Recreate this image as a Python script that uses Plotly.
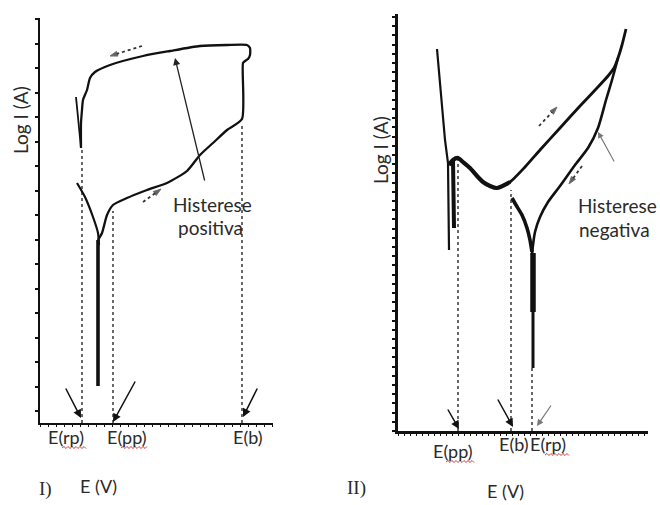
import plotly.graph_objects as go

W, H = 660, 505
INK = "#111111"
TXT = "#2a2a2a"

# ---------------- Panel I : positive hysteresis (arbitrary units) ----------------
# cathodic spike at the corrosion potential
I_spike_E = [58, 58]
I_spike_logI = [37, 183]
# left arm of the V around the corrosion potential
I_varm_E = [37, 45, 53, 58, 59]
I_varm_logI = [240, 226, 206, 190, 178]
# forward (anodic) scan up to E(b), then reverse scan back towards E(rp)
I_scan_E = [58, 62, 67, 73, 87, 107, 127, 147, 160, 173, 187, 202,
            203, 205, 208, 210, 210, 207, 187, 160, 130, 103, 70, 55,
            50, 47, 43, 42, 41, 41]
I_scan_logI = [183, 190, 208, 218, 225, 233, 240, 252, 268, 280, 293, 304,
               360, 362, 364, 368, 375, 378, 378, 377, 372, 367, 358, 351,
               345, 333, 323, 313, 300, 275]
# short closing stroke at the end of the reverse scan
I_tail_E = [36, 41]
I_tail_logI = [326, 275]

# characteristic potentials (x) and where their guide lines stop (y)
I_marks = ["E(rp)", "E(pp)", "E(b)"]
I_marks_E = [42, 73, 202]
I_marks_top = [275, 212, 300]

# ---------------- Panel II : negative hysteresis (arbitrary units) ----------------
II_spike_E = [39, 47, 50, 51]
II_spike_logI = [382, 291, 268, 181]
II_inner_E = [55, 56]
II_inner_logI = [271, 203]
II_fwd_E = [51, 55, 60, 65, 72, 79, 85, 92, 99, 112, 127, 142, 162, 182,
            199, 210, 216, 220, 224, 228]
II_fwd_logI = [266, 271, 273, 269, 263, 255, 249, 245, 243, 249, 264, 281,
               303, 325, 343, 355, 363, 373, 386, 402]
II_rev_E = [220, 214, 208, 200, 190, 177, 162, 150, 142, 137, 135, 134]
II_rev_logI = [373, 351, 331, 303, 283, 266, 245, 229, 214, 199, 186, 176]
II_varm_E = [114, 118, 124, 129, 132, 134]
II_varm_logI = [233, 226, 216, 203, 191, 179]
II_drop_E = [135, 135]
II_drop_logI = [178, 119]
II_drop2_E = [135, 135]
II_drop2_logI = [125, 63]

II_marks = ["E(pp)", "E(b)", "E(rp)"]
II_marks_E = [60, 113, 134]
II_marks_top = [271, 241, 63]

fig = go.Figure()


def curve(E, L, xa, ya, width, shape="spline"):
    fig.add_trace(go.Scatter(
        x=E, y=L, xaxis=xa, yaxis=ya, mode="lines",
        line=dict(color=INK, width=width, shape=shape, smoothing=0.6),
        hoverinfo="skip", showlegend=False))


def guides(Es, tops, xa, ya):
    for e, t in zip(Es, tops):
        fig.add_trace(go.Scatter(
            x=[e, e], y=[0, t], xaxis=xa, yaxis=ya, mode="lines",
            line=dict(color="#444444", width=1.6, dash="dot"),
            hoverinfo="skip", showlegend=False))


def dotted_arrow(x0, y0, x1, y1, xa, ya):
    fig.add_trace(go.Scatter(
        x=[x0, x1], y=[y0, y1], xaxis=xa, yaxis=ya, mode="lines+markers",
        line=dict(color="#333333", width=1.8, dash="dot"),
        marker=dict(symbol="arrow", angleref="previous", size=[0, 8],
                    color="#222222"),
        hoverinfo="skip", showlegend=False))


# panel I
guides(I_marks_E, I_marks_top, "x", "y")
curve(I_varm_E, I_varm_logI, "x", "y", 2.2)
curve(I_scan_E, I_scan_logI, "x", "y", 2.3)
curve(I_tail_E, I_tail_logI, "x", "y", 1.8, "linear")
curve(I_spike_E, I_spike_logI, "x", "y", 3.6, "linear")
dotted_arrow(103, 221, 121, 234, "x", "y")
dotted_arrow(102, 377, 70, 367, "x", "y")

# panel II
guides(II_marks_E, II_marks_top, "x2", "y2")
curve(II_spike_E, II_spike_logI, "x2", "y2", 2.2, "linear")
curve(II_inner_E, II_inner_logI, "x2", "y2", 4, "linear")
curve(II_fwd_E, II_fwd_logI, "x2", "y2", 2.8)
curve(II_fwd_E[:10], II_fwd_logI[:10], "x2", "y2", 4.2)
curve(II_rev_E, II_rev_logI, "x2", "y2", 2.6)
curve(II_varm_E, II_varm_logI, "x2", "y2", 3.6)
curve(II_drop_E, II_drop_logI, "x2", "y2", 5.5, "linear")
curve(II_drop2_E, II_drop2_logI, "x2", "y2", 3, "linear")
dotted_arrow(141, 305, 159, 324, "x2", "y2")
dotted_arrow(184, 265, 171, 247, "x2", "y2")

annotations = []


def solid_arrow(x_tip, y_tip, x_tail, y_tail, xa, ya, color=INK, w=1.5):
    annotations.append(dict(
        x=x_tip, y=y_tip, ax=x_tail, ay=y_tail, xref=xa, yref=ya,
        axref=xa, ayref=ya, text="", showarrow=True, arrowhead=2,
        arrowsize=1.1, arrowwidth=w, arrowcolor=color))


# panel I arrows
solid_arrow(135, 365, 165, 241, "x", "y", "#222222", 1.3)
solid_arrow(41, 5, 25, 36, "x", "y")
solid_arrow(73, 1, 96, 43, "x", "y")
solid_arrow(203, 6, 218, 36, "x", "y")
# panel II arrows
solid_arrow(200, 299, 217, 268, "x2", "y2", "#777777", 1.1)
solid_arrow(61, 2, 49, 23, "x2", "y2")
solid_arrow(115, 4, 99, 33, "x2", "y2")
solid_arrow(139, 5, 154, 27, "x2", "y2", "#777777", 1.2)


def px(x):
    return x / W


def py(y):
    return 1 - y / H


def label(x, y, text, size=18, family="Lato", angle=0, anchor="center"):
    annotations.append(dict(
        x=px(x), y=py(y), xref="paper", yref="paper", text=text,
        showarrow=False, textangle=angle, xanchor=anchor, yanchor="middle",
        font=dict(family=family, size=size, color=TXT)))


# potential labels under the axes
for name, xc in zip(I_marks, [66, 127, 248]):
    label(xc, 437, name)
for name, xc, yc in zip(II_marks, [453, 514, 548], [451, 444, 444]):
    label(xc, yc, name)

label(20, 120, "Log I (A)", 19, angle=-90)
label(380, 150, "Log I (A)", 19, angle=-90)
label(98, 486, "E (V)")
label(505, 491, "E (V)")
label(45, 489, "I)", 19, "Liberation Serif")
label(356, 488, "II)", 19, "Liberation Serif")
label(212, 204, "Histerese", 19)
label(210, 228, "positiva", 19)
label(576, 205, "Histerese", 19, anchor="left")
label(577, 230, "negativa", 19, anchor="left")


# spell-checker style wavy underlines below some labels
def squiggle(x0, x1, y):
    d = "M {:.4f},{:.4f}".format(px(x0), py(y))
    x, up = x0, True
    while x < x1:
        x += 2
        d += " L {:.4f},{:.4f}".format(px(x), py(y - 1.5 if up else y + 0.5))
        up = not up
    return dict(type="path", path=d, xref="paper", yref="paper",
                line=dict(color="#d23c3c", width=1))


shapes = [squiggle(62, 86, 448), squiggle(121, 147, 448),
          squiggle(446, 474, 462), squiggle(545, 569, 455)]

axis_common = dict(showgrid=False, zeroline=False, showline=True,
                   linecolor=INK, showticklabels=False, ticks="outside",
                   tickcolor=INK, fixedrange=True)

fig.update_layout(
    width=W, height=H, margin=dict(l=0, r=0, t=0, b=0),
    paper_bgcolor="white", plot_bgcolor="white",
    annotations=annotations, shapes=shapes,
    xaxis=dict(domain=[px(40), px(273)], range=[0, 233], anchor="y",
               linewidth=2.4, tick0=0, dtick=8, ticklen=2, tickwidth=1,
               **axis_common),
    yaxis=dict(domain=[py(423), py(18)], range=[0, 405], anchor="x",
               linewidth=2, tick0=12, dtick=24.5, ticklen=3, tickwidth=1.5,
               **axis_common),
    xaxis2=dict(domain=[px(398), px(648)], range=[0, 250], anchor="y2",
                linewidth=3, tick0=0, dtick=6, ticklen=2, tickwidth=1.2,
                **axis_common),
    yaxis2=dict(domain=[py(431), py(14)], range=[0, 417], anchor="x2",
                linewidth=3, tick0=0, dtick=9.2, ticklen=3, tickwidth=1.5,
                **axis_common),
)

fig.write_html("out.html")
